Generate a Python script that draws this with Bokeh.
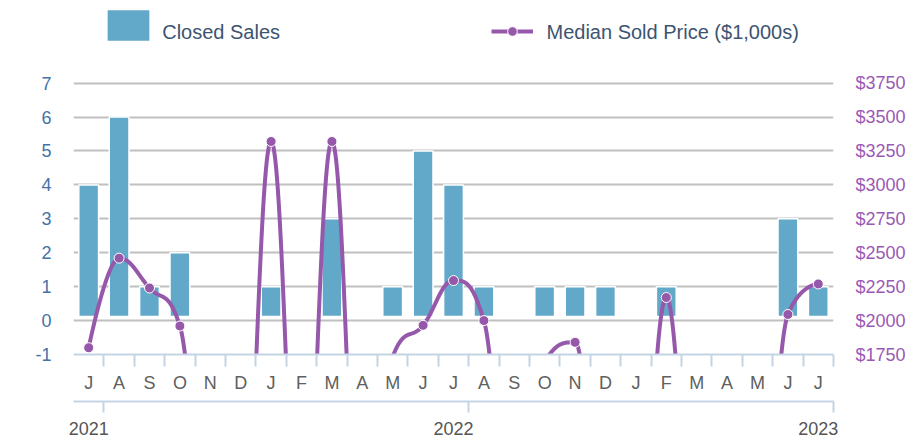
import numpy as np
from bokeh.plotting import figure
from bokeh.models import (Range1d, LinearAxis, FixedTicker, ColumnDataSource, Legend,
                          LegendItem, Grid, CustomJSTickFormatter, Label)
from bokeh.embed import file_html
from bokeh.resources import INLINE

# ---------------- data ----------------
months = ["J", "A", "S", "O", "N", "D", "J", "F", "M", "A", "M", "J",
          "J", "A", "S", "O", "N", "D", "J", "F", "M", "A", "M", "J", "J"]
years = ["2021", "2022", "2023"]
closed_sales = [4, 6, 1, 2, 0, 0, 1, 0, 3, 0, 1, 5, 4, 1, 0, 1, 1, 1, 0, 1, 0, 0, 0, 3, 1]
median_price = [1800, 2460, 2240, 1960, 0, 0, 3320, 0, 3320, 0, 1735, 1965, 2295, 2000,
                0, 1700, 1840, 0, 0, 2170, 0, 0, 0, 2045, 2270]
sales_ticks = [-1, 0, 1, 2, 3, 4, 5, 6, 7]
sales_tick_labels = ["-1", "0", "1", "2", "3", "4", "5", "6", "7"]
price_ticks = [1750, 2000, 2250, 2500, 2750, 3000, 3250, 3500, 3750]
price_tick_labels = ["$1750", "$2000", "$2250", "$2500", "$2750", "$3000", "$3250", "$3500", "$3750"]
series_names = ["Closed Sales", "Median Sold Price ($1,000s)"]

# ---------------- styles ----------------
FONT = "Liberation Sans"
BAR = "#62a9c9"
PURPLE = "#9658aa"
AXIS_BLUE = "#c4d4e4"
LEGEND_TEXT = "#3d5470"
HEADROOM = 2.436          # room above the top gridline (in sales units) for the legend

n = len(months)
xc = np.arange(n) + 0.5
s_lo, s_hi = sales_ticks[0], sales_ticks[-1]
p_lo, p_hi = price_ticks[0], price_ticks[-1]
p_per_s = (p_hi - p_lo) / (s_hi - s_lo)


def hc_spline(xs, ys, steps=40):
    """Highcharts-style spline through the points."""
    m = len(xs)
    sm, den = 1.5, 2.5
    lc = [None] * m
    rc = [None] * m
    for i in range(1, m - 1):
        px, py = xs[i], ys[i]
        lx, ly = xs[i - 1], ys[i - 1]
        nx, ny = xs[i + 1], ys[i + 1]
        lcx, lcy = (sm * px + lx) / den, (sm * py + ly) / den
        rcx, rcy = (sm * px + nx) / den, (sm * py + ny) / den
        if rcx != lcx:
            corr = ((rcy - lcy) * (rcx - px)) / (rcx - lcx) + py - rcy
            lcy += corr
            rcy += corr
        if lcy > ly and lcy > py:
            lcy = max(ly, py); rcy = 2 * py - lcy
        elif lcy < ly and lcy < py:
            lcy = min(ly, py); rcy = 2 * py - lcy
        if rcy > ny and rcy > py:
            rcy = max(ny, py); lcy = 2 * py - rcy
        elif rcy < ny and rcy < py:
            rcy = min(ny, py); lcy = 2 * py - rcy
        lc[i] = (lcx, lcy)
        rc[i] = (rcx, rcy)
    ox, oy = [xs[0]], [ys[0]]
    t = np.linspace(0, 1, steps + 1)[1:]
    for i in range(1, m):
        p0 = (xs[i - 1], ys[i - 1])
        p3 = (xs[i], ys[i])
        p1 = rc[i - 1] if rc[i - 1] is not None else p0
        p2 = lc[i] if lc[i] is not None else p3
        bx = (1 - t) ** 3 * p0[0] + 3 * (1 - t) ** 2 * t * p1[0] + 3 * (1 - t) * t ** 2 * p2[0] + t ** 3 * p3[0]
        by = (1 - t) ** 3 * p0[1] + 3 * (1 - t) ** 2 * t * p1[1] + 3 * (1 - t) * t ** 2 * p2[1] + t ** 3 * p3[1]
        ox.extend(bx.tolist())
        oy.extend(by.tolist())
    return ox, oy


p = figure(width=924, height=440, x_range=Range1d(0, n),
           y_range=Range1d(s_lo, s_hi + HEADROOM),
           output_backend="svg", toolbar_location=None,
           x_axis_location=None, y_axis_location=None,
           min_border_left=73, min_border_right=91, min_border_top=0, min_border_bottom=86)
p.outline_line_color = None
p.background_fill_color = "white"
p.border_fill_color = "white"
p.extra_y_ranges = {"price": Range1d(p_lo, p_hi + HEADROOM * p_per_s)}
p.center = []

grid = Grid(dimension=1, ticker=FixedTicker(ticks=sales_ticks[1:]),
            grid_line_color="#c0c0c0", grid_line_width=2)
p.add_layout(grid)

# bars
sales_arr = np.array(closed_sales)
mask = sales_arr > 0
bar_src = ColumnDataSource(dict(x=xc[mask], top=sales_arr[mask]))
bars = p.vbar(x="x", top="top", bottom=0.12, width=0.65, source=bar_src,
              fill_color=BAR, line_color="white", line_width=1.5)

# spline line + markers (markers only where inside the price axis, as in the original)
sx, sy = hc_spline(list(xc), [float(v) for v in median_price])
line_r = p.line(sx, sy, y_range_name="price", line_color=PURPLE, line_width=4)
price_arr = np.array(median_price, dtype=float)
vis = (price_arr >= p_lo) & (price_arr <= p_hi)
pts = p.scatter(xc[vis], price_arr[vis], y_range_name="price", size=10, fill_color=PURPLE,
                line_color="white", line_width=1)

# left axis
left = LinearAxis(ticker=FixedTicker(ticks=sales_ticks),
                  major_label_overrides={t: l for t, l in zip(sales_ticks, sales_tick_labels)},
                  axis_line_color=None,
                  major_tick_line_color=None, minor_tick_line_color=None,
                  major_tick_out=0, major_tick_in=0, minor_tick_out=0, minor_tick_in=0,
                  major_label_standoff=22, major_label_text_font_size="18px",
                  major_label_text_font=FONT, major_label_text_color="#4572a7")
p.add_layout(left, "left")

# right axis
right = LinearAxis(y_range_name="price", ticker=FixedTicker(ticks=price_ticks),
                   major_label_overrides={t: l for t, l in zip(price_ticks, price_tick_labels)},
                   axis_line_color=None, major_tick_line_color=None, minor_tick_line_color=None,
                   major_tick_out=0, major_tick_in=0, minor_tick_out=0, minor_tick_in=0,
                   major_label_standoff=22, major_label_text_font_size="18px",
                   major_label_text_font=FONT, major_label_text_color="#9b59b6")
p.add_layout(right, "right")

# month axis
month_axis = LinearAxis(
    ticker=FixedTicker(ticks=list(xc), minor_ticks=list(range(1, n + 1))),
    formatter=CustomJSTickFormatter(args=dict(labels=months), code="return labels[Math.floor(tick)]"),
    axis_line_color=AXIS_BLUE, axis_line_width=2,
    major_tick_out=0, major_tick_in=0, major_tick_line_color=None,
    minor_tick_out=12, minor_tick_in=0, minor_tick_line_color=AXIS_BLUE, minor_tick_line_width=2,
    major_label_standoff=6, major_label_text_font_size="18px", major_label_text_font=FONT,
    major_label_text_color="#606060",
    axis_label=" ", axis_label_text_font_size="3px", axis_label_standoff=0)
p.add_layout(month_axis, "below")

year_axis = LinearAxis(
    ticker=FixedTicker(ticks=[0.5, 12.5, 24.5], minor_ticks=[1, 13, 25]),
    formatter=CustomJSTickFormatter(args=dict(labels=years), code="return labels[Math.round((tick - 0.5) / 12)]"),
    axis_line_color=AXIS_BLUE, axis_line_width=2,
    major_tick_out=0, major_tick_in=0, major_tick_line_color=None,
    minor_tick_out=11, minor_tick_in=0, minor_tick_line_color=AXIS_BLUE, minor_tick_line_width=2,
    major_label_standoff=9, major_label_text_font_size="18px", major_label_text_font=FONT,
    major_label_text_color="#555555")
p.add_layout(year_axis, "below")

# legend: glyph swatches via Legend, names as labels (baseline below swatch centre, as in original)
common = dict(orientation="horizontal", padding=0, margin=0, border_line_color=None,
              background_fill_alpha=0, label_text_font_size="1px", label_text_alpha=0,
              label_standoff=0, label_width=1)
leg1 = Legend(items=[LegendItem(label=" ", renderers=[bars])],
              location=(28.2, 309.4), glyph_width=54, glyph_height=40, **common)
leg2 = Legend(items=[LegendItem(label=" ", renderers=[line_r, pts])],
              location=(417.7, 310.7), glyph_width=42, glyph_height=24, **common)
p.add_layout(leg1)
p.add_layout(leg2)

for name, lx in zip(series_names, [88.7, 473.0]):
    p.add_layout(Label(x=lx, y=323, x_units="screen", y_units="screen", text=name,
                       text_font=FONT, text_font_size="20px", text_color=LEGEND_TEXT,
                       text_baseline="alphabetic", text_align="left"))

open("out.html", "w").write(file_html(p, INLINE))
